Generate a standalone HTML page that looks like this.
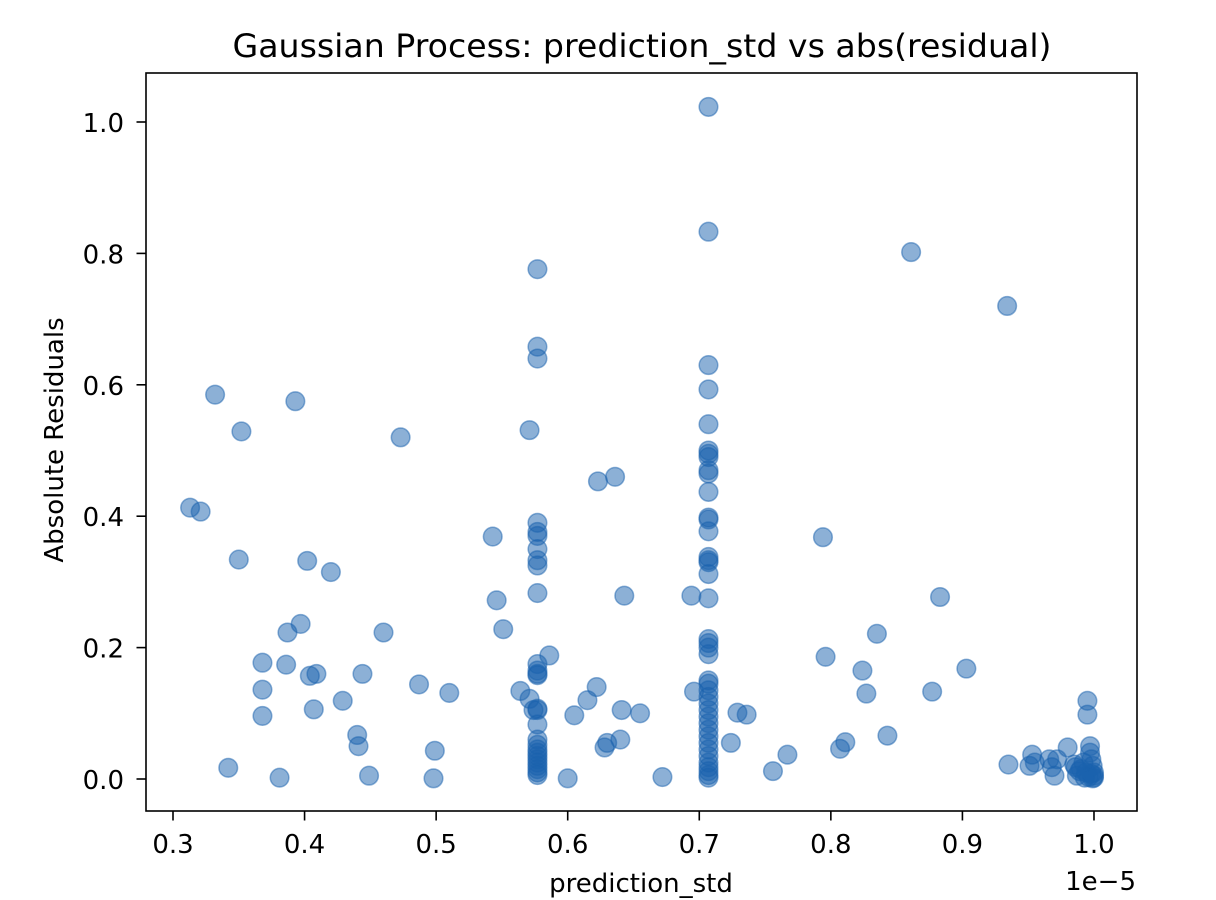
<!DOCTYPE html>
<html><head><meta charset="utf-8"><style>
body{margin:0;background:#fff;}
svg{display:block;font-family:"DejaVu Sans","Liberation Sans",sans-serif;}
</style></head><body>
<svg id="chart" width="1216" height="900">
<rect width="1216" height="900" fill="#fff"/>
<text x="642" y="57" text-anchor="middle" font-size="32" textLength="819" lengthAdjust="spacingAndGlyphs">Gaussian Process: prediction_std vs abs(residual)</text>
<g id="points"></g>
<g id="xt"></g>
<g id="yt"></g>
<rect x="146" y="73" width="991" height="738" fill="none" stroke="#000" stroke-width="1.6"/>
<text x="641" y="892" text-anchor="middle" font-size="26">prediction_std</text>
<text x="1136" y="890" text-anchor="end" font-size="26">1e−5</text>
<text transform="translate(63,440) rotate(-90)" text-anchor="middle" font-size="26">Absolute Residuals</text>
</svg>
<script>
const xTicks=[0.3,0.4,0.5,0.6,0.7,0.8,0.9,1.0];
const yTicks=[0.0,0.2,0.4,0.6,0.8,1.0];
const xVals=[0.313,0.321,0.332,0.342,0.350,0.352,0.368,0.368,0.368,0.381,0.386,0.387,0.393,0.397,0.402,0.404,0.407,0.409,0.420,0.429,0.440,0.441,0.444,0.449,0.460,0.473,0.487,0.498,0.499,0.510,0.543,0.546,0.551,0.564,0.571,0.571,0.574,
0.577,0.577,0.577,0.577,0.577,0.577,0.577,0.577,0.577,0.577,0.577,0.577,0.577,0.577,0.577,0.577,0.577,0.577,0.577,0.577,0.577,0.577,0.577,0.577,0.577,0.577,0.577,0.577,
0.586,0.600,0.605,0.615,0.622,0.623,0.628,0.630,0.636,0.640,0.641,0.643,0.655,0.672,0.694,0.696,
0.707,0.707,0.707,0.707,0.707,0.707,0.707,0.707,0.707,0.707,0.707,0.707,0.707,0.707,0.707,0.707,0.707,0.707,0.707,0.707,0.707,0.707,0.707,0.707,0.707,0.707,0.707,0.707,0.707,0.707,0.707,0.707,0.707,0.707,0.707,0.707,0.707,0.707,0.707,0.707,0.707,
0.724,0.729,0.736,0.756,0.767,0.794,0.796,0.807,0.811,0.824,0.827,0.835,0.843,0.861,0.877,0.883,0.903,0.934,0.935,
0.951,0.953,0.955,0.966,0.968,0.970,0.972,0.980,0.985,0.987,0.990,0.992,0.994,0.995,0.995,0.997,0.997,0.998,0.999,1.0,1.0,1.0,0.999,0.998,0.996,0.993,0.989,0.986];
const yVals=[0.413,0.407,0.585,0.017,0.334,0.529,0.177,0.136,0.096,0.002,0.174,0.223,0.575,0.236,0.332,0.157,0.106,0.160,0.315,0.119,0.067,0.050,0.160,0.005,0.223,0.520,0.144,0.001,0.043,0.131,0.369,0.272,0.228,0.134,0.531,0.122,0.105,
0.776,0.658,0.640,0.390,0.376,0.370,0.350,0.333,0.325,0.283,0.175,0.165,0.160,0.158,0.107,0.105,0.083,0.060,0.052,0.045,0.040,0.035,0.030,0.025,0.020,0.015,0.010,0.006,
0.188,0.001,0.097,0.120,0.140,0.453,0.048,0.055,0.460,0.060,0.105,0.279,0.100,0.003,0.279,0.133,
1.023,0.833,0.630,0.593,0.540,0.500,0.495,0.490,0.470,0.465,0.437,0.398,0.395,0.377,0.338,0.333,0.330,0.312,0.275,0.213,0.207,0.200,0.190,0.150,0.145,0.135,0.125,0.115,0.105,0.095,0.085,0.075,0.065,0.055,0.045,0.035,0.025,0.018,0.012,0.006,0.002,
0.055,0.101,0.098,0.012,0.037,0.368,0.186,0.046,0.056,0.165,0.130,0.221,0.066,0.802,0.133,0.277,0.168,0.720,0.022,
0.020,0.037,0.025,0.030,0.018,0.005,0.030,0.048,0.022,0.005,0.015,0.025,0.010,0.119,0.098,0.050,0.040,0.030,0.020,0.010,0.005,0.002,0.001,0.008,0.003,0.002,0.012,0.018];
const NS='http://www.w3.org/2000/svg';
const sx=v=>173+(v-0.3)*1315.7;
const sy=v=>779-v*657;
const pg=document.getElementById('points');
for(let i=0;i<xVals.length;i++){
  const c=document.createElementNS(NS,'circle');
  c.setAttribute('cx',sx(xVals[i]));c.setAttribute('cy',sy(yVals[i]));c.setAttribute('r',9.3);
  c.setAttribute('fill','#1961ad');c.setAttribute('fill-opacity','0.5');
  c.setAttribute('stroke','#1961ad');c.setAttribute('stroke-opacity','0.5');c.setAttribute('stroke-width','1.5');
  
  
  pg.appendChild(c);
}
const xt=document.getElementById('xt');
xTicks.forEach(v=>{
  const l=document.createElementNS(NS,'line');
  l.setAttribute('x1',sx(v));l.setAttribute('x2',sx(v));l.setAttribute('y1',811);l.setAttribute('y2',820.5);l.setAttribute('stroke','#000');l.setAttribute('stroke-width','1.6');
  
  
  xt.appendChild(l);
  const t=document.createElementNS(NS,'text');
  t.setAttribute('x',sx(v));t.setAttribute('y',853);t.setAttribute('text-anchor','middle');t.setAttribute('font-size','26');
  t.textContent=v.toFixed(1);
  
  
  xt.appendChild(t);
});
const yt=document.getElementById('yt');
yTicks.forEach(v=>{
  const l=document.createElementNS(NS,'line');
  l.setAttribute('x1',136.5);l.setAttribute('x2',146);l.setAttribute('y1',sy(v));l.setAttribute('y2',sy(v));l.setAttribute('stroke','#000');l.setAttribute('stroke-width','1.6');
  
  
  yt.appendChild(l);
  const t=document.createElementNS(NS,'text');
  t.setAttribute('x',124);t.setAttribute('y',sy(v)+10);t.setAttribute('text-anchor','end');t.setAttribute('font-size','26');
  t.textContent=v.toFixed(1);
  
  
  yt.appendChild(t);
});
</script>
</body></html>
